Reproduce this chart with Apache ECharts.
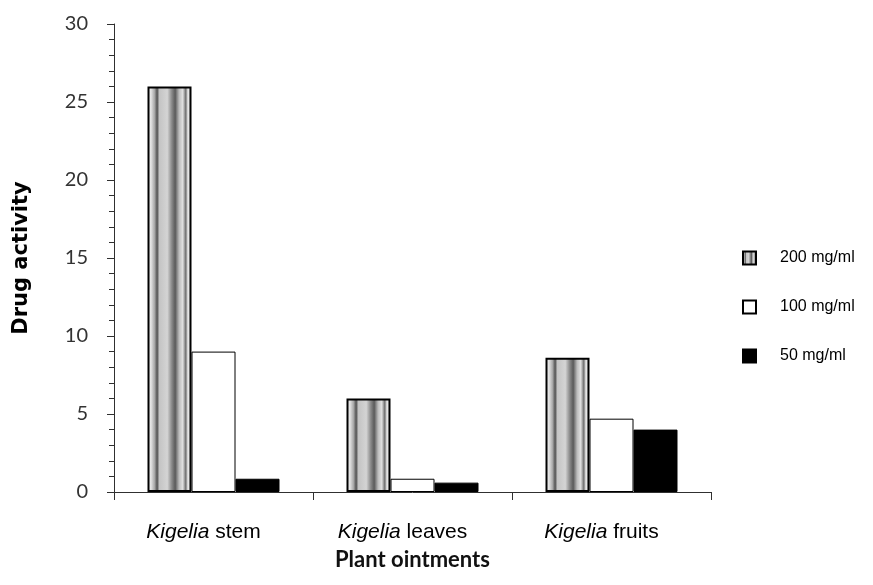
<!DOCTYPE html>
<html>
<head>
<meta charset="utf-8">
<script src="https://cdn.jsdelivr.net/npm/echarts@6/dist/echarts.min.js"></script>
<style>html,body{margin:0;padding:0;background:#fff}#c{width:873px;height:585px}</style>
</head>
<body>
<div id="c"></div>
<script>
const categories = ['Kigelia stem', 'Kigelia leaves', 'Kigelia fruits'];
const seriesNames = ['200 mg/ml', '100 mg/ml', '50 mg/ml'];
const v200 = [26.0, 6.0, 8.6];
const v100 = [9.0, 0.85, 4.7];
const v50 = [0.85, 0.6, 4.0];
const yTicks = [0, 5, 10, 15, 20, 25, 30];

const stripe = new echarts.graphic.LinearGradient(0, 0, 1, 0, [
  {offset: 0.00, color: '#f4f4f4'},
  {offset: 0.08, color: '#e2e2e2'},
  {offset: 0.16, color: '#a8a8a8'},
  {offset: 0.22, color: '#505050'},
  {offset: 0.27, color: '#c4c4c4'},
  {offset: 0.45, color: '#d4d4d4'},
  {offset: 0.55, color: '#8a8a8a'},
  {offset: 0.63, color: '#5a5a5a'},
  {offset: 0.72, color: '#bdbdbd'},
  {offset: 0.80, color: '#e0e0e0'},
  {offset: 0.87, color: '#6e6e6e'},
  {offset: 0.92, color: '#eeeeee'},
  {offset: 1.00, color: '#b8b8b8'}
]);

const chart = echarts.init(document.getElementById('c'), null, {renderer: 'canvas'});
chart.setOption({
  animation: false,
  backgroundColor: '#fff',
  grid: {left: 114, right: 162, top: 24, bottom: 93, containLabel: false},
  legend: {
    orient: 'vertical',
    left: 737,
    top: 245,
    itemGap: 33,
    itemWidth: 13,
    itemHeight: 13,
    icon: 'rect',
    data: seriesNames,
    textStyle: {fontFamily: '"Liberation Sans", Arial', fontSize: 16, color: '#000', padding: [0, 0, 0, 19]}
  },
  xAxis: {
    type: 'category',
    data: categories,
    axisLine: {lineStyle: {color: '#303030', width: 1}},
    axisTick: {show: true, length: 8, lineStyle: {color: '#303030'}},
    axisLabel: {
      interval: 0,
      margin: 30,
      padding: [0, 20, 0, 0],
      fontFamily: '"Liberation Sans", Arial',
      fontSize: 21,
      color: '#000',
      formatter: function (v) {
        const i = v.indexOf(' ');
        return '{i|' + v.slice(0, i) + '}' + v.slice(i);
      },
      rich: {i: {fontStyle: 'italic', fontFamily: '"Liberation Sans", Arial', fontSize: 21, color: '#000'}}
    },
    name: 'Plant ointments',
    nameLocation: 'middle',
    nameGap: 57,
    nameTextStyle: {fontFamily: 'Lato, "Open Sans"', fontSize: 22, fontWeight: 'bold', color: '#111'}
  },
  yAxis: {
    type: 'value',
    min: yTicks[0],
    max: yTicks[yTicks.length - 1],
    interval: 5,
    splitLine: {show: false},
    axisLine: {show: true, lineStyle: {color: '#303030', width: 1}},
    axisTick: {show: true, length: 7, lineStyle: {color: '#303030'}},
    minorTick: {show: true, splitNumber: 5, length: 5, lineStyle: {color: '#303030'}},
    axisLabel: {margin: 26, fontFamily: 'Lato, "Open Sans"', fontSize: 20, color: '#333'},
    name: 'Drug activity',
    nameLocation: 'middle',
    nameGap: 82,
    nameRotate: 90,
    nameTextStyle: {fontFamily: '"DejaVu Sans"', fontSize: 21, fontWeight: 'bold', color: '#000'}
  },
  series: [
    {name: seriesNames[0], type: 'bar', data: v200, barWidth: 44, barGap: '0%',
     itemStyle: {color: stripe, borderColor: '#000', borderWidth: 2}},
    {name: seriesNames[1], type: 'bar', data: v100, barWidth: 44, barGap: '0%',
     itemStyle: {color: '#fff', borderColor: '#000', borderWidth: 1}},
    {name: seriesNames[2], type: 'bar', data: v50, barWidth: 44, barGap: '0%',
     itemStyle: {color: '#000', borderColor: '#000', borderWidth: 1}}
  ]
});
</script>
</body>
</html>
